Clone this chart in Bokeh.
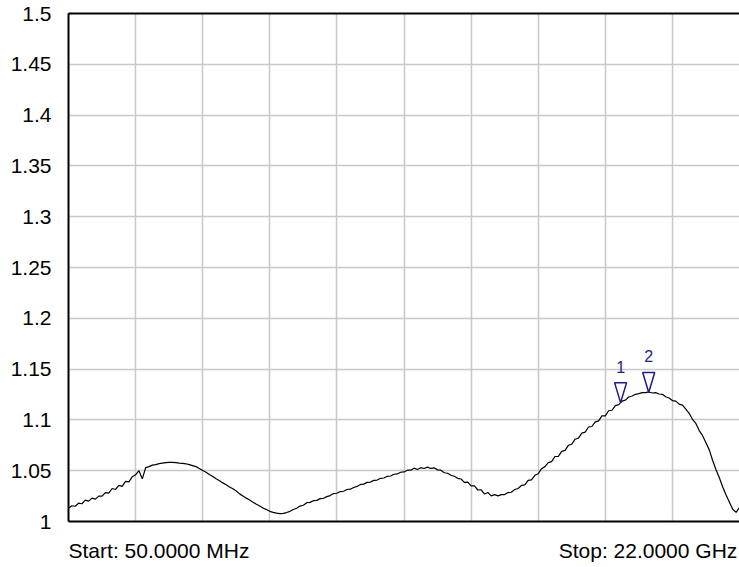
import numpy as np
from bokeh.plotting import figure
from bokeh.models import FixedTicker, CustomJSTickFormatter, LinearAxis, Range1d
from bokeh.core.properties import value
from bokeh.embed import file_html
from bokeh.resources import INLINE

# ---- data ----
freq_start_ghz = 0.05
freq_stop_ghz = 22.0
n_points = 201
swr = [
    1.0130, 1.0155, 1.0150, 1.0180, 1.0175, 1.0210, 1.0200, 1.0230, 1.0220, 1.0250,
    1.0250, 1.0285, 1.0280, 1.0325, 1.0315, 1.0355, 1.0345, 1.0395, 1.0390, 1.0440,
    1.0460, 1.0500, 1.0420, 1.0530, 1.0540, 1.0555, 1.0560, 1.0570, 1.0575, 1.0580,
    1.0582, 1.0582, 1.0580, 1.0575, 1.0572, 1.0568, 1.0560, 1.0550, 1.0540, 1.0522,
    1.0502, 1.0485, 1.0462, 1.0443, 1.0420, 1.0402, 1.0380, 1.0362, 1.0340, 1.0322,
    1.0300, 1.0272, 1.0252, 1.0230, 1.0211, 1.0190, 1.0170, 1.0152, 1.0132, 1.0118,
    1.0100, 1.0090, 1.0082, 1.0078, 1.0080, 1.0088, 1.0100, 1.0118, 1.0130, 1.0152,
    1.0160, 1.0185, 1.0188, 1.0205, 1.0208, 1.0225, 1.0228, 1.0245, 1.0255, 1.0275,
    1.0278, 1.0295, 1.0298, 1.0315, 1.0318, 1.0335, 1.0345, 1.0365, 1.0368, 1.0385,
    1.0388, 1.0405, 1.0408, 1.0425, 1.0428, 1.0445, 1.0448, 1.0465, 1.0468, 1.0485,
    1.0488, 1.0505, 1.0505, 1.0525, 1.0512, 1.0530, 1.0522, 1.0535, 1.0522, 1.0528,
    1.0508, 1.0505, 1.0480, 1.0475, 1.0455, 1.0445, 1.0425, 1.0418, 1.0385, 1.0388,
    1.0350, 1.0350, 1.0310, 1.0312, 1.0270, 1.0285, 1.0252, 1.0265, 1.0252, 1.0265,
    1.0265, 1.0285, 1.0288, 1.0315, 1.0325, 1.0355, 1.0360, 1.0405, 1.0410, 1.0455,
    1.0470, 1.0520, 1.0540, 1.0580, 1.0590, 1.0640, 1.0640, 1.0690, 1.0700, 1.0750,
    1.0760, 1.0810, 1.0820, 1.0870, 1.0880, 1.0930, 1.0935, 1.0980, 1.0990, 1.1040,
    1.1040, 1.1090, 1.1095, 1.1140, 1.1150, 1.1185, 1.1195, 1.1225, 1.1235, 1.1252,
    1.1258, 1.1268, 1.1268, 1.1275, 1.1265, 1.1268, 1.1255, 1.1252, 1.1228, 1.1215,
    1.1190, 1.1185, 1.1155, 1.1145, 1.1105, 1.1065, 1.1005, 1.0965, 1.0895, 1.0845,
    1.0775, 1.0705, 1.0600, 1.0510, 1.0430, 1.0340, 1.0260, 1.0190, 1.0120, 1.0090,
    1.0140,
]
marker_names = ["1", "2"]
marker_freq = [18.11, 19.03]
marker_swr = [1.117, 1.127]
y_ticks = [1.0, 1.05, 1.1, 1.15, 1.2, 1.25, 1.3, 1.35, 1.4, 1.45, 1.5]
start_text = "Start: 50.0000 MHz"
stop_text = "Stop: 22.0000 GHz"
n_div = 10

freq = np.linspace(freq_start_ghz, freq_stop_ghz, n_points)
x_grid = list(np.linspace(freq_start_ghz, freq_stop_ghz, n_div + 1))

FONT = "Liberation Sans"
W, H = 739, 567
BL, BR, BT, BB = 68, 0, 13, 46
frame_w = W - BL - BR
frame_h = H - BT - BB
px_x = (freq_stop_ghz - freq_start_ghz) / frame_w
px_y = 0.5 / frame_h

p = figure(width=W, height=H, output_backend="svg", toolbar_location=None,
           x_range=Range1d(freq_start_ghz, freq_stop_ghz), y_range=Range1d(1.0, 1.5),
           min_border_left=BL, min_border_right=BR, min_border_top=BT, min_border_bottom=BB)
p.outline_line_color = None
p.border_fill_color = "white"

# grids (own tickers)
p.xgrid.ticker = FixedTicker(ticks=x_grid)
p.ygrid.ticker = FixedTicker(ticks=y_ticks)
for g in (p.xgrid, p.ygrid):
    g.grid_line_color = "#c8c8c8"
    g.grid_line_width = 1.5

# y axis
ya = p.yaxis[0]
ya.ticker = FixedTicker(ticks=y_ticks)
ya.formatter = CustomJSTickFormatter(code="return (Math.round(tick*100)/100).toString();")
ya.major_tick_line_color = None
ya.minor_tick_line_color = None
ya.major_label_standoff = 11
ya.major_label_text_font = FONT
ya.major_label_text_font_size = "21px"
ya.major_label_text_color = "black"
ya.axis_line_color = "black"
ya.axis_line_width = 2

# x axis: carries the start / stop texts
start_c = freq_start_ghz + 90.5 * px_x
stop_c = freq_stop_ghz - 91.5 * px_x
xa = p.xaxis[0]
xa.ticker = FixedTicker(ticks=[start_c, stop_c])
xa.major_label_overrides = {start_c: start_text, stop_c: stop_text}
xa.major_tick_line_color = None
xa.minor_tick_line_color = None
xa.major_label_text_font = FONT
xa.major_label_text_font_size = "21px"
xa.major_label_text_color = "black"
xa.major_label_standoff = 11
xa.axis_line_color = "black"
xa.axis_line_width = 2

top = LinearAxis(ticker=FixedTicker(ticks=[]), major_tick_line_color=None,
                 minor_tick_line_color=None, major_label_standoff=0,
                 axis_line_color="black", axis_line_width=2)
p.add_layout(top, "above")

# short stray line above the frame at top-left
top2 = LinearAxis(ticker=FixedTicker(ticks=[]), major_tick_line_color=None,
                  minor_tick_line_color=None, major_label_standoff=0,
                  bounds=(freq_start_ghz, freq_start_ghz + 59 * px_x),
                  axis_line_color="black", axis_line_width=1)
p.add_layout(top2, "above")

# trace
p.line(freq, swr, line_color="black", line_width=1.2)

# markers
hw, th = 6 * px_x, 20 * px_y
xs = [[f - hw, f + hw, f] for f in marker_freq]
ys = [[v + th, v + th, v] for v in marker_swr]
p.patches(xs, ys, fill_color=None, line_color="#1c1c8c", line_width=1.5)
p.text(marker_freq, marker_swr, text=marker_names, y_offset=-36,
       text_align="center", text_baseline="middle", text_color="#1c1c8c",
       text_font=value(FONT), text_font_size="16px")

open("out.html", "w").write(file_html(p, INLINE))
